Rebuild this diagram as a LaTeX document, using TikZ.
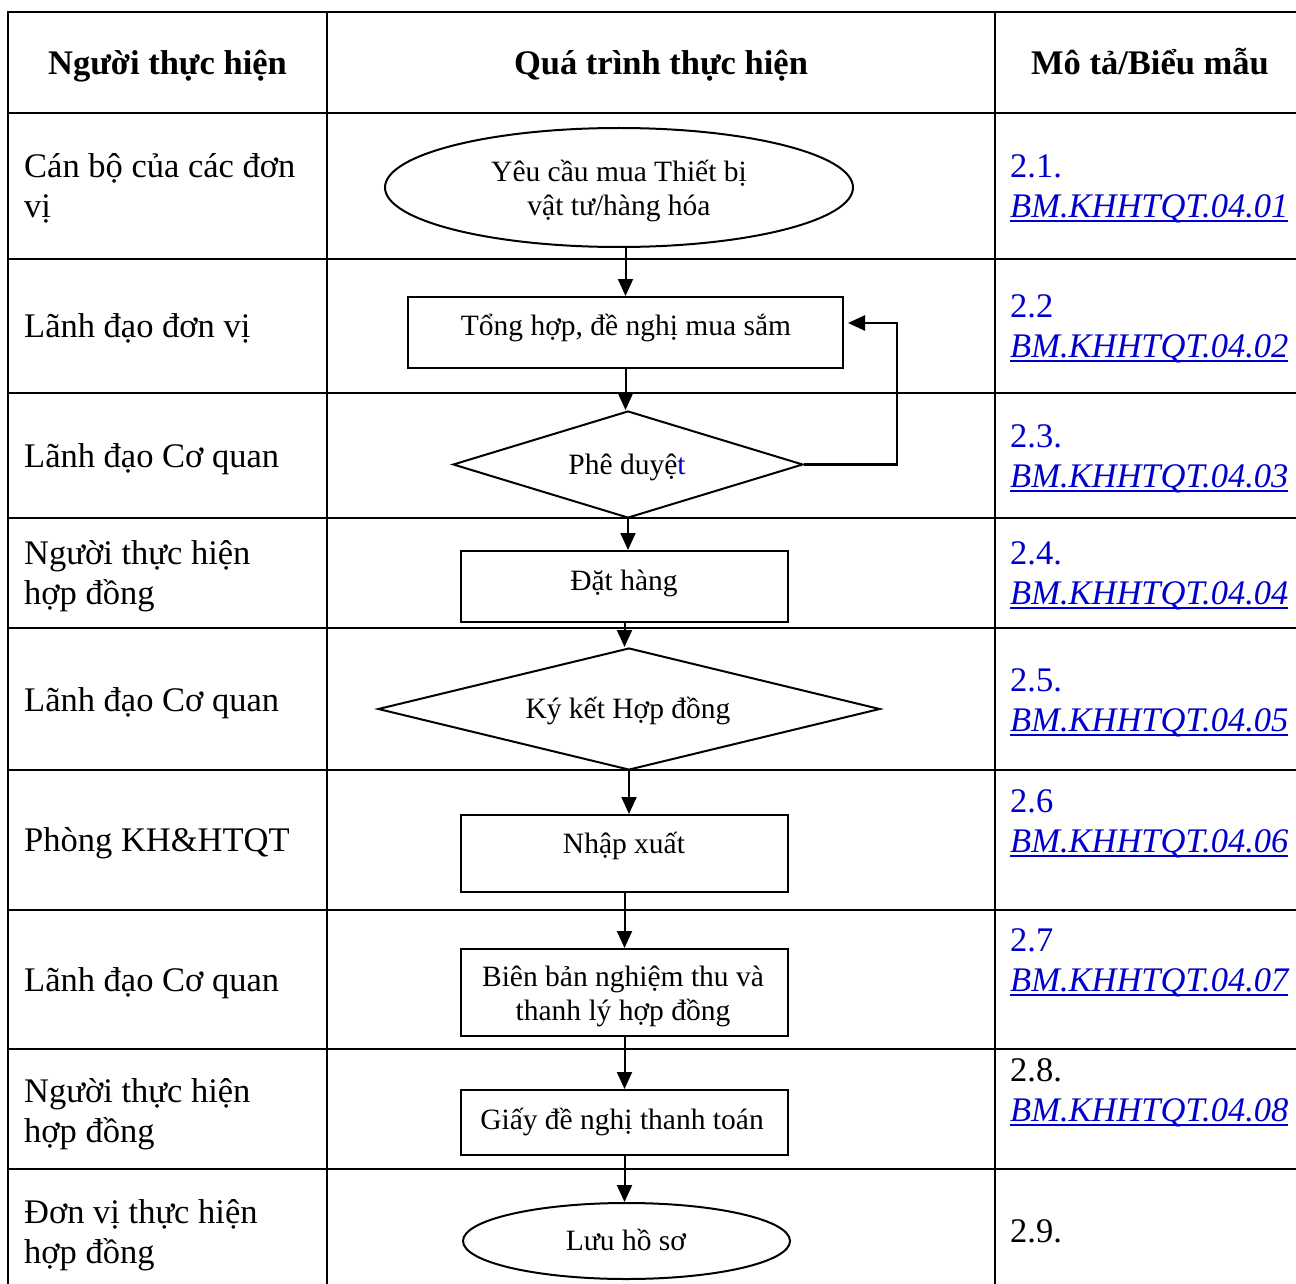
\documentclass[tikz,border=0pt]{standalone}
\usepackage{fontspec}
\setmainfont{Liberation Serif}
\usetikzlibrary{shapes.geometric,arrows.meta}
\definecolor{linkblue}{RGB}{0,0,204}
\newcommand\bmul[1]{\setbox0=\hbox{#1}\rlap{\rule[-4.5pt]{\wd0}{2pt}}\box0}
\begin{document}
\begin{tikzpicture}[x=1pt,y=-1pt,
  grid/.style={line width=2.5pt},
  shp/.style={draw, line width=2pt, inner sep=0pt},
  boxnode/.style={shp, rectangle},
  ell/.style={shp, ellipse},
  dia/.style={shp, diamond},
  arr/.style={line width=2pt,-{Triangle[length=17pt,width=15pt]}},
  fbline/.style={line width=2.5pt,-{Triangle[length=17pt,width=15pt]}},
  lbl/.style={anchor=base west, inner sep=0pt, align=left, font=\fontsize{34.5}{40}\selectfont},
  hdr/.style={anchor=base, inner sep=0pt, font=\fontsize{34.5}{40}\selectfont\bfseries},
  ftxt/.style={anchor=base, inner sep=0pt, align=center, font=\fontsize{29.5}{34}\selectfont},
  frm/.style={lbl, text=linkblue},
]
\useasboundingbox[fill=white] (0,0) rectangle (1296,1284);

% table grid
\draw[grid] (1296,12) -- (8,12) -- (8,1284);
\draw[grid] (327,12) -- (327,1284);
\draw[grid] (995,12) -- (995,1284);
\foreach \yy in {113,259,393,518,628,770,910,1049,1169}
  \draw[grid] (8,\yy) -- (1296,\yy);

% headers
\node[hdr] (h1) at (167.5,75) {Người thực hiện};
\node[hdr] (h2) at (661,75) {Quá trình thực hiện};
\node[hdr] (h3) at (1150,75) {Mô tả/Biểu mẫu};

% left column (base = last line)
\node[lbl] (l1) at (24,218) {Cán bộ của các đơn\\vị};
\node[lbl] (l2) at (24,337) {Lãnh đạo đơn vị};
\node[lbl] (l3) at (24,467) {Lãnh đạo Cơ quan};
\node[lbl] (l4) at (24,604) {Người thực hiện\\hợp đồng};
\node[lbl] (l5) at (24,711) {Lãnh đạo Cơ quan};
\node[lbl] (l6) at (24,851) {Phòng KH\&HTQT};
\node[lbl] (l7) at (24,991) {Lãnh đạo Cơ quan};
\node[lbl] (l8) at (24,1142) {Người thực hiện\\hợp đồng};
\node[lbl] (l9) at (24,1263) {Đơn vị thực hiện\\hợp đồng};

% right column
\node[frm] (m1) at (1010,218) {2.1.\\\bmul{\itshape BM.KHHTQT.04.01}};
\node[frm] (m2) at (1010,357) {2.2\\\bmul{\itshape BM.KHHTQT.04.02}};
\node[frm] (m3) at (1010,487) {2.3.\\\bmul{\itshape BM.KHHTQT.04.03}};
\node[frm] (m4) at (1010,604) {2.4.\\\bmul{\itshape BM.KHHTQT.04.04}};
\node[frm] (m5) at (1010,731) {2.5.\\\bmul{\itshape BM.KHHTQT.04.05}};
\node[frm] (m6) at (1010,852) {2.6\\\bmul{\itshape BM.KHHTQT.04.06}};
\node[frm] (m7) at (1010,991) {2.7\\\bmul{\itshape BM.KHHTQT.04.07}};
\node[lbl] (m8) at (1010,1121) {2.8.\\{\color{linkblue}\bmul{\itshape BM.KHHTQT.04.08}}};
\node[lbl] (m9) at (1010,1242) {2.9.};

% flow shapes
\node[ell, minimum width=468, minimum height=119] (e1) at (619,187.5) {};
\node[boxnode, minimum width=435, minimum height=71] (r2) at (625.5,332.5) {};
\node[dia, minimum width=350, minimum height=107] (d3) at (628,464.5) {};
\node[boxnode, minimum width=327, minimum height=71] (r4) at (624.5,586.5) {};
\node[dia, minimum width=502, minimum height=122] (d5) at (629,709) {};
\node[boxnode, minimum width=327, minimum height=77] (r6) at (624.5,853.5) {};
\node[boxnode, minimum width=327, minimum height=87] (r7) at (624.5,992.5) {};
\node[boxnode, minimum width=327, minimum height=65] (r8) at (624.5,1122.5) {};
\node[ell, minimum width=327, minimum height=76] (e9) at (626.5,1241) {};

% flow texts
\node[ftxt] (t1) at (619,215.5) {Yêu cầu mua Thiết bị\\vật tư/hàng hóa};
\node[ftxt] (t2) at (626,335.5) {Tổng hợp, đề nghị mua sắm};
\node[ftxt] (t3) at (627,474.5) {Phê duyệ{\color{linkblue}t}};
\node[ftxt] (t4) at (624,590.5) {Đặt hàng};
\node[ftxt] (t5) at (628,718.5) {Ký kết Hợp đồng};
\node[ftxt] (t6) at (624,853.5) {Nhập xuất};
\node[ftxt] (t7) at (623,1020.5) {Biên bản nghiệm thu và\\thanh lý hợp đồng};
\node[ftxt] (t8) at (622,1129.5) {Giấy đề nghị thanh toán};
\node[ftxt] (t9) at (626,1250.5) {Lưu hồ sơ};

% connectors
\draw[arr] (e1.south -| r2.north) -- (r2.north);
\draw[arr] (r2.south) -- (r2.south |- d3.north);
\draw[arr] (d3.south) -- (d3.south |- r4.north);
\draw[arr] (r4.south) -- (r4.south |- d5.north);
\draw[arr] (d5.south) -- (d5.south |- r6.north);
\draw[arr] (r6.south) -- (r6.south |- r7.north);
\draw[arr] (r7.south) -- (r7.south |- r8.north);
\draw[arr] (r8.south) -- (r8.south |- e9.north);

% feedback loop
\coordinate (fbc) at (897,464.5);
\coordinate (fbe) at (848,323);
\draw[fbline] (d3.east) -- (fbc) |- (fbe);
\end{tikzpicture}
\end{document}
